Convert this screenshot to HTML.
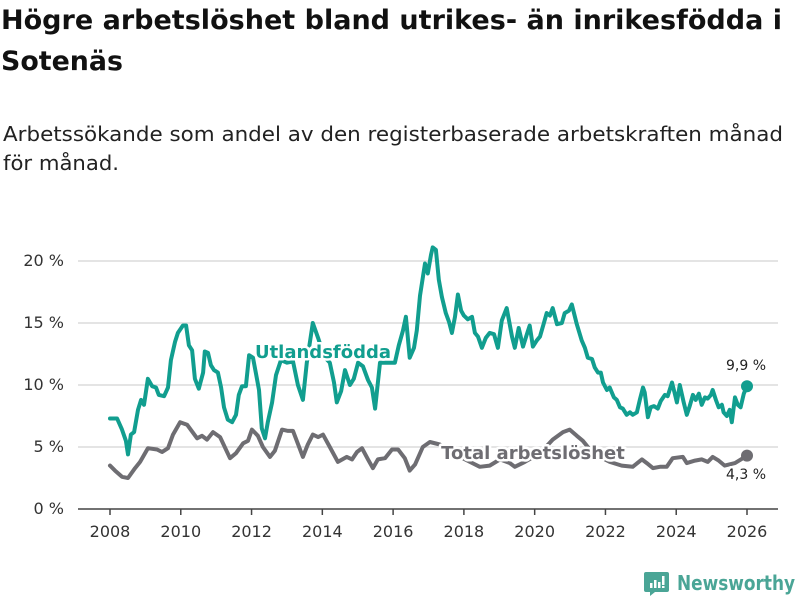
<!DOCTYPE html>
<html><head><meta charset="utf-8">
<style>
html,body{margin:0;padding:0;background:#fff;}
svg{display:block;font-family:"DejaVu Sans","Liberation Sans",sans-serif;}
</style></head>
<body>
<svg id="chart" width="800" height="600" viewBox="0 0 800 600" xmlns="http://www.w3.org/2000/svg">
<text x="1" y="29" font-size="27" font-weight="bold" fill="#111" textLength="781" lengthAdjust="spacingAndGlyphs">Högre arbetslöshet bland utrikes- än inrikesfödda i</text>
<text x="1" y="70" font-size="27" font-weight="bold" fill="#111" textLength="122" lengthAdjust="spacingAndGlyphs">Sotenäs</text>
<text x="3" y="141" font-size="20" fill="#222" textLength="780" lengthAdjust="spacingAndGlyphs">Arbetssökande som andel av den registerbaserade arbetskraften månad</text>
<text x="3" y="170" font-size="20" fill="#222" textLength="116" lengthAdjust="spacingAndGlyphs">för månad.</text>
<g id="grid"></g>
<g id="yaxis"></g>
<g id="xaxis"></g>
<g id="series"></g>
<g id="labels"></g>
<g>
<path d="M646 572 h21 a2 2 0 0 1 2 2 v16 a2 2 0 0 1 -2 2 h-12 l-5 4 v-4 h-4 a2 2 0 0 1 -2 -2 v-16 a2 2 0 0 1 2 -2z" fill="#4aa596"/>
<rect x="650" y="583" width="2.5" height="5" fill="#fff"/><rect x="654" y="580" width="2.5" height="8" fill="#fff"/><rect x="658" y="582" width="2.5" height="6" fill="#fff"/><rect x="662" y="576" width="2.5" height="9" fill="#fff"/><rect x="662" y="586" width="2.5" height="2" fill="#fff"/>
<text x="677" y="590" font-size="20" font-weight="bold" fill="#4aa596" textLength="118" lengthAdjust="spacingAndGlyphs">Newsworthy</text>
</g>
</svg>
<script>
const yTicks = [0, 5, 10, 15, 20];
const yTickLabels = ["0 %", "5 %", "10 %", "15 %", "20 %"];
const xTicks = [2008, 2010, 2012, 2014, 2016, 2018, 2020, 2022, 2024, 2026];
const utlandDates = [2008.00,2008.20,2008.34,2008.45,2008.51,2008.59,2008.68,2008.79,2008.88,2008.96,2009.07,2009.19,2009.30,2009.38,2009.53,2009.64,2009.72,2009.84,2009.92,2010.06,2010.15,2010.23,2010.32,2010.40,2010.51,2010.63,2010.68,2010.77,2010.85,2010.94,2011.05,2011.14,2011.22,2011.33,2011.45,2011.56,2011.64,2011.73,2011.84,2011.93,2012.04,2012.12,2012.21,2012.29,2012.38,2012.46,2012.58,2012.69,2012.83,2013.00,2013.17,2013.31,2013.45,2013.56,2013.73,2013.88,2014.05,2014.21,2014.33,2014.41,2014.53,2014.64,2014.78,2014.89,2015.01,2015.15,2015.29,2015.40,2015.49,2015.63,2015.85,2016.05,2016.16,2016.28,2016.36,2016.47,2016.59,2016.67,2016.76,2016.90,2016.98,2017.07,2017.12,2017.21,2017.29,2017.38,2017.49,2017.58,2017.66,2017.75,2017.83,2017.92,2018.00,2018.11,2018.23,2018.31,2018.40,2018.51,2018.62,2018.73,2018.85,2018.96,2019.07,2019.21,2019.36,2019.44,2019.55,2019.67,2019.78,2019.86,2019.95,2020.06,2020.15,2020.26,2020.34,2020.43,2020.51,2020.63,2020.77,2020.85,2020.97,2021.05,2021.19,2021.33,2021.42,2021.50,2021.62,2021.70,2021.79,2021.87,2021.93,2022.04,2022.12,2022.24,2022.32,2022.41,2022.49,2022.60,2022.69,2022.77,2022.89,2022.97,2023.06,2023.11,2023.20,2023.28,2023.37,2023.48,2023.56,2023.68,2023.76,2023.88,2023.96,2024.02,2024.10,2024.21,2024.30,2024.38,2024.47,2024.55,2024.64,2024.72,2024.81,2024.89,2024.98,2025.03,2025.12,2025.20,2025.29,2025.34,2025.43,2025.51,2025.57,2025.66,2025.74,2025.82,2025.91,2026.00];
const utlandValues = [7.3,7.3,6.4,5.5,4.4,6.0,6.2,8.0,8.8,8.4,10.5,9.9,9.8,9.2,9.1,9.8,12.0,13.5,14.2,14.8,14.8,13.2,12.8,10.5,9.7,11.0,12.7,12.6,11.6,11.2,11.0,9.8,8.2,7.2,7.0,7.6,9.2,9.9,9.9,12.4,12.2,11.0,9.6,6.5,5.7,7.0,8.6,10.8,12.0,11.8,11.9,10.0,8.8,11.8,15.0,13.8,12.3,11.8,10.2,8.6,9.5,11.2,10.0,10.5,11.8,11.5,10.4,9.8,8.1,11.8,11.8,11.8,13.2,14.4,15.5,12.2,13.0,14.4,17.2,19.8,19.0,20.5,21.1,20.9,18.5,17.1,15.8,15.1,14.2,15.5,17.3,16.0,15.6,15.3,15.5,14.2,13.9,13.0,13.8,14.2,14.1,13.0,15.2,16.2,13.9,13.0,14.6,13.1,14.1,14.8,13.1,13.6,13.9,15.0,15.8,15.6,16.2,14.9,15.0,15.8,16.0,16.5,14.9,13.6,13.0,12.2,12.1,11.4,11.0,11.0,10.2,9.6,9.8,9.0,8.8,8.2,8.1,7.6,7.8,7.6,7.8,8.8,9.8,9.4,7.4,8.2,8.3,8.1,8.7,9.2,9.1,10.2,9.3,8.6,10.0,8.6,7.6,8.3,9.2,8.8,9.3,8.4,9.0,8.9,9.2,9.6,8.8,8.2,8.4,7.8,7.5,8.0,7.0,9.0,8.4,8.2,9.3,9.9];
const totalDates = [2008.00,2008.14,2008.34,2008.51,2008.71,2008.85,2009.07,2009.33,2009.47,2009.64,2009.78,2009.98,2010.18,2010.46,2010.60,2010.74,2010.91,2011.11,2011.39,2011.56,2011.76,2011.90,2012.01,2012.18,2012.32,2012.52,2012.66,2012.86,2013.03,2013.17,2013.45,2013.59,2013.73,2013.88,2014.02,2014.21,2014.44,2014.69,2014.84,2014.98,2015.12,2015.29,2015.43,2015.57,2015.77,2015.97,2016.14,2016.33,2016.47,2016.62,2016.84,2017.04,2017.32,2017.75,2018.17,2018.45,2018.73,2019.02,2019.30,2019.44,2019.72,2020.15,2020.51,2020.80,2020.99,2021.19,2021.36,2021.56,2021.84,2022.12,2022.46,2022.77,2023.03,2023.17,2023.34,2023.54,2023.73,2023.90,2024.19,2024.30,2024.53,2024.72,2024.89,2025.03,2025.20,2025.37,2025.66,2026.00];
const totalValues = [3.5,3.1,2.6,2.5,3.3,3.8,4.9,4.8,4.6,4.9,6.0,7.0,6.8,5.7,5.9,5.6,6.2,5.8,4.1,4.5,5.3,5.5,6.4,5.9,5.0,4.2,4.7,6.4,6.3,6.3,4.2,5.2,6.0,5.8,6.0,5.0,3.8,4.2,4.0,4.6,4.9,4.0,3.3,4.0,4.1,4.8,4.8,4.1,3.1,3.6,5.0,5.4,5.2,4.4,3.8,3.4,3.5,4.0,3.7,3.4,3.8,4.5,5.6,6.2,6.4,5.9,5.5,4.8,4.2,3.8,3.5,3.4,4.0,3.7,3.3,3.4,3.4,4.1,4.2,3.7,3.9,4.0,3.8,4.2,3.9,3.5,3.7,4.3];

const NS = "http://www.w3.org/2000/svg";
const X0 = 110, XW = 637, Y0 = 509, YH = 248;
function xs(yr){ return X0 + (yr - 2008) / 18 * XW; }
function ys(v){ return Y0 - v / 20 * YH; }
function mk(tag, attrs, parent){ const e = document.createElementNS(NS, tag); for (const k in attrs) e.setAttribute(k, attrs[k]); parent.appendChild(e); return e; }

const grid = document.getElementById('grid'), yax = document.getElementById('yaxis'), xax = document.getElementById('xaxis');
yTicks.forEach((t, i) => {
  if (t > 0) {
    const l = mk('line', {x1: 78, x2: 778, y1: ys(t), y2: ys(t), stroke: '#dcdcdc', 'stroke-width': 1.5}, grid);
    
    
  }
  const tx = mk('text', {x: 64, y: ys(t) + 5, 'text-anchor': 'end', 'font-size': 16, fill: '#333'}, yax);
  tx.textContent = yTickLabels[i];
  
  
});
const axl = mk('line', {x1: 78, x2: 778, y1: Y0, y2: Y0, stroke: '#444', 'stroke-width': 1.5}, xax);


xTicks.forEach(t => {
  const tk = mk('line', {x1: xs(t), x2: xs(t), y1: Y0, y2: Y0 + 6, stroke: '#444', 'stroke-width': 1.5}, xax);
  
  
  const tx = mk('text', {x: xs(t), y: 537, 'text-anchor': 'middle', 'font-size': 16, fill: '#333'}, xax);
  tx.textContent = String(t);
  
  
});

const ser = document.getElementById('series');
function drawLine(dates, vals, color, name){
  const d = dates.map((dt, i) => (i ? 'L' : 'M') + xs(dt).toFixed(1) + ' ' + ys(vals[i]).toFixed(1)).join(' ');
  const p = mk('path', {d: d, fill: 'none', stroke: color, 'stroke-width': 4, 'stroke-linejoin': 'round', 'stroke-linecap': 'round'}, ser);
  
  
  const n = dates.length - 1;
  const c = mk('circle', {cx: xs(dates[n]), cy: ys(vals[n]), r: 6, fill: color}, ser);
  
  
}
drawLine(totalDates, totalValues, '#6e6d72', 'total');
drawLine(utlandDates, utlandValues, '#119e8f', 'utlandsfodda');

const lab = document.getElementById('labels');
function label(x, y, txt, color, size, bold, name, halo){
  const t = mk('text', {x: x, y: y, 'text-anchor': 'middle', 'font-size': size, fill: color, 'font-weight': bold ? 'bold' : 'normal'}, lab);
  if (halo) { t.setAttribute('stroke', '#fff'); t.setAttribute('stroke-width', 5); t.setAttribute('paint-order', 'stroke'); t.setAttribute('stroke-linejoin', 'round'); }
  t.textContent = txt;
  
  
}
label(323, 358, 'Utlandsfödda', '#119e8f', 18, true, 'utlandsfodda-label', true);
label(533, 459, 'Total arbetslöshet', '#6e6d72', 18, true, 'total-label', true);
const nU = utlandValues.length - 1, nT = totalValues.length - 1;
label(746, 370, utlandValues[nU].toFixed(1).replace('.', ',') + ' %', '#222', 14, false, 'utlandsfodda-end-value', true);
label(746, 479, totalValues[nT].toFixed(1).replace('.', ',') + ' %', '#222', 14, false, 'total-end-value', true);
</script>
</body></html>
